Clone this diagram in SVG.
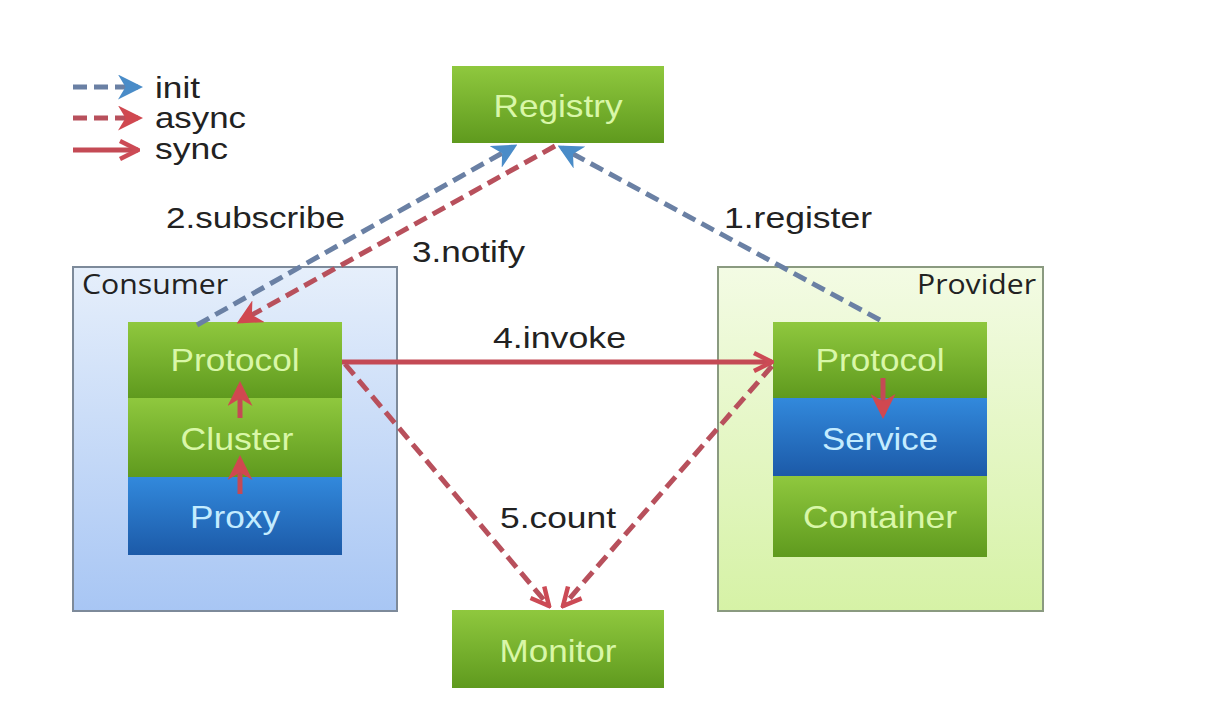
<svg xmlns="http://www.w3.org/2000/svg" width="1220" height="710" viewBox="0 0 1220 710">
<defs>
<linearGradient id="gGreen" x1="0" y1="0" x2="0" y2="1"><stop offset="0" stop-color="#8fc83e"/><stop offset="1" stop-color="#5f9a1e"/></linearGradient>
<linearGradient id="gBlue" x1="0" y1="0" x2="0" y2="1"><stop offset="0" stop-color="#3289dc"/><stop offset="1" stop-color="#1c5aa8"/></linearGradient>
<linearGradient id="gCons" x1="0" y1="0" x2="0" y2="1"><stop offset="0" stop-color="#e6effb"/><stop offset="1" stop-color="#a8c6f4"/></linearGradient>
<linearGradient id="gProv" x1="0" y1="0" x2="0" y2="1"><stop offset="0" stop-color="#f3fbe4"/><stop offset="1" stop-color="#d6f2a6"/></linearGradient>
<marker id="mInit" viewBox="0 0 10 10" refX="8" refY="5" markerWidth="5" markerHeight="5" orient="auto" markerUnits="strokeWidth"><path d="M0,0 L10,5 L0,10 L3,5 Z" fill="#4a8cc8"/></marker>
<marker id="mRed" viewBox="0 0 10 10" refX="8" refY="5" markerWidth="5" markerHeight="5" orient="auto" markerUnits="strokeWidth"><path d="M0,0 L10,5 L0,10 L3,5 Z" fill="#d04850"/></marker>
<marker id="mOpen" viewBox="0 0 10 10" refX="9" refY="5" markerWidth="4.5" markerHeight="4.5" orient="auto" markerUnits="strokeWidth"><path d="M1,1 L9,5 L1,9" fill="none" stroke="#cc4a55" stroke-width="2"/></marker>
</defs>
<style>
.box{fill:url(#gGreen);}
.blue{fill:url(#gBlue);}
.nt{font-family:"Liberation Sans",Arial,sans-serif;font-size:32px;fill:#d9f7a8;text-anchor:middle;}
.lt{fill:#c4ecff;}
.lbl{font-family:"Liberation Sans",Arial,sans-serif;font-size:29px;fill:#222;}
.grp{font-family:"Open Sans","Liberation Sans",sans-serif;font-size:27px;fill:#222;}
.init{fill:none;stroke:#6a80a4;stroke-width:5;stroke-dasharray:14 7;marker-end:url(#mInit);}
.async{fill:none;stroke:#b8505c;stroke-width:5;stroke-dasharray:14 7;}
.sync{fill:none;stroke:#c44a55;stroke-width:5;}
</style>
<rect width="1220" height="710" fill="#ffffff"/>

<g id="legend">
<line x1="73" y1="87" x2="138" y2="87" class="init"/>
<line x1="73" y1="118" x2="138" y2="118" class="async" marker-end="url(#mRed)"/>
<line x1="73" y1="150" x2="138" y2="150" class="sync" marker-end="url(#mOpen)"/>
<text x="155" y="98" class="lbl" textLength="45" lengthAdjust="spacingAndGlyphs">init</text>
<text x="155" y="128" class="lbl" textLength="91" lengthAdjust="spacingAndGlyphs">async</text>
<text x="155" y="159" class="lbl" textLength="73" lengthAdjust="spacingAndGlyphs">sync</text>
</g>

<g id="consumer">
<rect x="73" y="267" width="324" height="344" fill="url(#gCons)" stroke="#7d8a9a" stroke-width="2"/>
<text x="82" y="294" class="grp" textLength="146" lengthAdjust="spacingAndGlyphs">Consumer</text>
<rect x="128" y="322" width="214" height="76" class="box"/>
<rect x="128" y="398" width="214" height="79" class="box"/>
<rect x="128" y="477" width="214" height="78" class="blue"/>
<text x="235" y="371" class="nt" textLength="129" lengthAdjust="spacingAndGlyphs">Protocol</text>
<text x="237" y="450" class="nt" textLength="113" lengthAdjust="spacingAndGlyphs">Cluster</text>
<text x="235" y="528" class="nt lt" textLength="90" lengthAdjust="spacingAndGlyphs">Proxy</text>
</g>

<g id="provider">
<rect x="718" y="267" width="325" height="344" fill="url(#gProv)" stroke="#8a9a80" stroke-width="2"/>
<text x="917" y="294" class="grp" textLength="119" lengthAdjust="spacingAndGlyphs">Provider</text>
<rect x="773" y="322" width="214" height="76" class="box"/>
<rect x="773" y="398" width="214" height="78" class="blue"/>
<rect x="773" y="476" width="214" height="81" class="box"/>
<text x="880" y="371" class="nt" textLength="129" lengthAdjust="spacingAndGlyphs">Protocol</text>
<text x="880" y="450" class="nt lt" textLength="116" lengthAdjust="spacingAndGlyphs">Service</text>
<text x="880" y="528" class="nt" textLength="154" lengthAdjust="spacingAndGlyphs">Container</text>
</g>

<g id="registry">
<rect x="452" y="66" width="212" height="77" class="box"/>
<text x="558" y="117" class="nt" textLength="129" lengthAdjust="spacingAndGlyphs">Registry</text>
</g>

<g id="monitor">
<rect x="452" y="610" width="212" height="78" class="box"/>
<text x="558" y="662" class="nt" textLength="117" lengthAdjust="spacingAndGlyphs">Monitor</text>
</g>

<g id="connectors">
<line x1="197" y1="325" x2="513" y2="147" class="init"/>
<line x1="555" y1="146" x2="241" y2="321" class="async" marker-end="url(#mRed)"/>
<line x1="880" y1="320" x2="562" y2="148" class="init"/>
<line x1="342" y1="362" x2="772" y2="362" class="sync" marker-end="url(#mOpen)"/>
<line x1="345" y1="364" x2="549" y2="606" class="async" marker-end="url(#mOpen)"/>
<line x1="772" y1="366" x2="563" y2="606" class="async" marker-end="url(#mOpen)"/>
<line x1="240" y1="494" x2="240" y2="460" class="sync" marker-end="url(#mRed)"/>
<line x1="240" y1="418" x2="240" y2="386" class="sync" marker-end="url(#mRed)"/>
<line x1="883" y1="378" x2="883" y2="414" class="sync" marker-end="url(#mRed)"/>
<text x="166" y="228" class="lbl" textLength="179" lengthAdjust="spacingAndGlyphs">2.subscribe</text>
<text x="412" y="262" class="lbl" textLength="113" lengthAdjust="spacingAndGlyphs">3.notify</text>
<text x="724" y="228" class="lbl" textLength="148" lengthAdjust="spacingAndGlyphs">1.register</text>
<text x="493" y="348" class="lbl" textLength="133" lengthAdjust="spacingAndGlyphs">4.invoke</text>
<text x="500" y="528" class="lbl" textLength="116" lengthAdjust="spacingAndGlyphs">5.count</text>
</g>
</svg>
